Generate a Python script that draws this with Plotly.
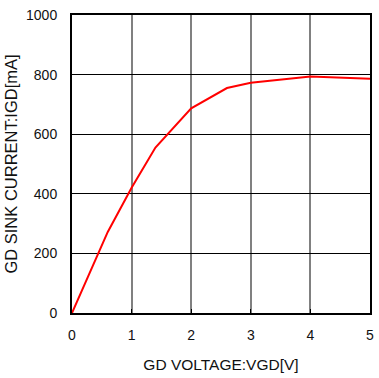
import plotly.graph_objects as go

# Gate-drive sink current versus gate-drive voltage
vgd = [0, 0.6, 1.0, 1.4, 2.0, 2.6, 3.0, 4.0, 5.0]
igd = [0, 272, 420, 555, 687, 755, 773, 794, 786]

x_ticks = [0, 1, 2, 3, 4, 5]
y_ticks = [0, 200, 400, 600, 800, 1000]

fig = go.Figure()
fig.add_trace(go.Scatter(
    x=vgd, y=igd, mode="lines",
    line=dict(color="#ff0000", width=2),
    showlegend=False,
))

family = "Liberation Sans, Arial, sans-serif"
tick_font = dict(family=family, size=14, color="#111111")

fig.update_layout(
    width=379, height=378,
    margin=dict(l=72, r=5, t=15, b=65),
    paper_bgcolor="white", plot_bgcolor="white",
    font=tick_font,
    xaxis=dict(
        range=[0, 5], tickvals=x_ticks, ticktext=[str(v) for v in x_ticks],
        showgrid=True, gridcolor="#808080", gridwidth=1.5,
        showline=True, linecolor="black", linewidth=2, mirror=True,
        ticks="inside", ticklen=4, tickcolor="black",
        ticklabelstandoff=8,
        zeroline=False,
        title=dict(text="GD VOLTAGE:VGD[V]",
                   font=dict(family=family, size=15.5, color="#111111"),
                   standoff=17),
    ),
    yaxis=dict(
        range=[0, 1000], tickvals=y_ticks, ticktext=[str(v) for v in y_ticks],
        showgrid=True, gridcolor="black", gridwidth=1,
        showline=True, linecolor="black", linewidth=2, mirror=True,
        ticks="inside", ticklen=4, tickcolor="black",
        ticklabelstandoff=10,
        zeroline=False,
        title=dict(text="GD SINK CURRENT:IGD[mA]",
                   font=dict(family=family, size=16.5, color="#111111"),
                   standoff=4),
    ),
)

fig.write_html("out.html")
